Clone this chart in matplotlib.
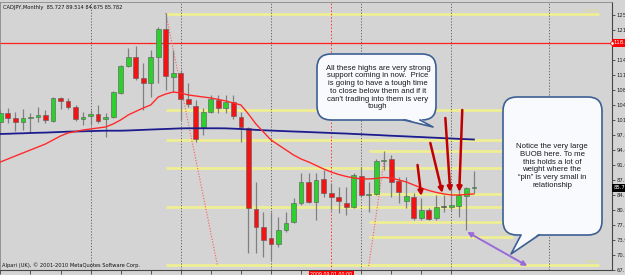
import matplotlib
matplotlib.use("Agg")
import matplotlib.pyplot as plt
from matplotlib.patches import FancyBboxPatch, Polygon
import numpy as np

# CADJPY monthly, Jan 2006 .. Apr 2011
opens = [100.75, 102.80, 101.66, 100.75, 101.66, 101.89, 102.34, 100.98, 106.21, 105.53,
         104.16, 101.43, 102.12, 102.57, 101.43, 101.89, 107.34, 113.48, 115.53, 110.75,
         109.62, 115.53, 121.89, 110.98, 111.89, 105.98, 104.39, 99.62, 103.03, 105.75,
         103.93, 105.30, 101.89, 99.39, 80.98, 76.89, 74.39, 73.03, 76.21, 78.03,
         82.34, 87.12, 82.57, 87.80, 84.62, 83.71, 82.34, 81.43, 88.48, 84.16,
         84.39, 91.89, 92.34, 87.34, 82.80, 83.71, 78.93, 80.75, 78.93, 81.43,
         81.43, 81.66, 83.93, 85.727]
highs = [103.48, 103.93, 103.03, 103.71, 102.80, 104.16, 103.48, 106.43, 106.43, 106.21,
         104.62, 103.03, 103.48, 104.62, 102.80, 107.80, 113.71, 117.57, 118.03, 114.16,
         117.12, 122.34, 125.53, 117.12, 112.57, 109.62, 105.75, 103.93, 106.89, 106.89,
         106.89, 106.89, 103.03, 99.50, 87.12, 80.30, 80.30, 79.16, 80.30, 83.48,
         89.16, 89.16, 89.16, 89.84, 86.89, 85.98, 85.98, 89.16, 90.53, 87.12,
         92.34, 94.16, 93.25, 88.25, 88.25, 84.62, 83.48, 81.21, 84.16, 84.16,
         85.98, 85.30, 85.98, 89.514]
lows = [98.25, 100.53, 98.71, 98.93, 98.25, 100.75, 100.53, 100.75, 103.71, 103.71,
        100.98, 100.07, 100.07, 100.53, 97.34, 101.66, 107.12, 113.25, 110.30, 103.48,
        106.43, 109.62, 108.03, 107.57, 101.21, 104.16, 96.21, 97.80, 102.80, 102.80,
        102.80, 101.43, 96.21, 70.98, 70.98, 70.07, 69.39, 72.34, 75.75, 77.80,
        81.89, 82.34, 78.48, 83.71, 80.75, 80.07, 79.62, 81.21, 83.71, 80.30,
        84.16, 89.84, 83.71, 82.34, 81.21, 78.48, 78.48, 78.48, 78.48, 80.30,
        80.75, 79.16, 76.21, 84.675]
closes = [102.80, 101.66, 100.75, 101.66, 101.89, 102.34, 101.21, 106.21, 105.53, 104.16,
          101.43, 101.89, 102.57, 100.98, 101.89, 107.57, 113.48, 115.53, 110.75, 109.62,
          115.53, 121.89, 111.21, 111.89, 105.98, 104.84, 96.89, 103.03, 105.98, 103.93,
          105.30, 102.12, 99.62, 81.21, 76.89, 73.93, 73.03, 76.21, 77.80, 82.34,
          87.12, 82.57, 87.57, 84.62, 83.71, 82.80, 81.43, 88.71, 84.16, 84.39,
          91.89, 92.12, 87.12, 84.84, 83.93, 78.93, 80.75, 78.71, 81.43, 81.43,
          81.89, 84.16, 85.75, 85.782]

# fast (red) and slow (blue) moving averages
ma_fast = [91.66, 92.34, 93.03, 93.71, 94.39, 95.07, 95.75, 96.66, 97.57, 98.25,
           98.59, 98.93, 99.16, 99.39, 99.62, 100.30, 101.21, 102.34, 103.14, 103.93,
           104.62, 106.43, 107.12, 107.57, 107.34, 106.89, 106.66, 106.43, 106.21, 105.87,
           105.53, 105.07, 104.62, 102.57, 100.30, 98.48, 96.66, 95.52, 94.39, 93.25,
           92.34, 91.66, 90.87, 90.07, 89.39, 88.82, 88.37, 88.03, 87.80, 87.80,
           87.91, 88.14, 88.03, 87.57, 87.12, 86.43, 85.75, 85.18, 84.73, 84.39,
           84.16, 84.16, 84.28, 84.39]
ma_slow = [98.03, 98.07, 98.14, 98.18, 98.25, 98.30, 98.34, 98.41, 98.48, 98.55,
           98.59, 98.64, 98.68, 98.73, 98.77, 98.77, 98.77, 98.82, 98.89, 98.96,
           99.03, 99.10, 99.16, 99.23, 99.30, 99.32, 99.32, 99.32, 99.32, 99.32,
           99.30, 99.23, 99.16, 99.05, 98.96, 98.87, 98.80, 98.73, 98.66, 98.59,
           98.53, 98.46, 98.39, 98.32, 98.25, 98.18, 98.12, 98.03, 97.96, 97.87,
           97.80, 97.71, 97.62, 97.55, 97.48, 97.39, 97.32, 97.23, 97.16, 97.07,
           97.00, 96.91, 96.84, 96.77]

# horizontal support lines: level, first bar, last bar, labelled?
sr_levels = [125.30, 103.48, 96.66, 94.16, 90.30, 84.39, 81.44, 78.03, 74.62, 68.25, 68.25]
sr_start = [22, 22, 22, 49, 22, 49, 22, 49, 49, 22, 49]
sr_end = [79.6, 79.6, 79.6, 68.2, 79.6, 74.0, 79.6, 74.0, 68.2, 79.6, 68.2]
sr_label = [True, True, True, False, True, False, True, False, True, True, True]

hline_red = 118.71
vline_red = 44
separators = [12, 24, 36, 48, 60, 73]

# 118.31 sits under the red line label, so it is left out
price_ticks = [67.10, 70.51, 73.93, 77.34, 80.76, 84.17, 87.58, 91.00, 94.41,
               97.83, 101.24, 104.65, 108.07, 111.48, 114.90, 121.72, 125.14]
# Sep 2009 sits under the red time label
date_ticks = [0, 4, 8, 12, 16, 20, 24, 28, 32, 36, 40, 48, 52, 56, 60]
date_labels = ["Jan 2006", "May 2006", "Sep 2006", "Jan 2007", "May 2007", "Sep 2007",
               "Jan 2008", "May 2008", "Sep 2008", "Jan 2009", "May 2009",
               "Jan 2010", "May 2010", "Sep 2010", "Jan 2011"]

bg = '#d4d4d4'
up_col = '#2ccf2c'
dn_col = '#f01414'

fig = plt.figure(figsize=(6.25, 2.75), dpi=100)
fig.patch.set_facecolor(bg)
ax = fig.add_axes([0, 5 / 275, 612 / 625, 268 / 275])
ax.set_facecolor(bg)

idx = np.arange(len(opens))
o = np.array(opens)
c = np.array(closes)

# support / resistance lines
for lev, s, e, lab in zip(sr_levels, sr_start, sr_end, sr_label):
    ax.hlines(lev, s, e, color='#eeee92', lw=2, zorder=1)
    if lab:
        ax.text(e, lev + 0.3, '%.2f' % lev, color='#e2e270', fontsize=3, ha='right',
                va='bottom', zorder=1)

# period separators + red vertical line
for s in separators:
    ax.axvline(s, color='#555555', lw=0.6, ls=(0, (1.5, 2)), zorder=1)
ax.axvline(vline_red, color='#ff3030', lw=0.7, ls=(0, (1.5, 2)), zorder=1)
ax.axhline(hline_red, color='#ff2020', lw=0.9, zorder=2)

# candles
ax.vlines(idx, lows, highs, color='#808080', lw=0.9, zorder=3)
cols = [up_col if cc >= oo else dn_col for oo, cc in zip(o, c)]
cols = ['#404040' if cc == oo else col for oo, cc, col in zip(o, c, cols)]
ax.bar(idx, np.maximum(np.abs(c - o), 0.15), bottom=np.minimum(o, c), width=0.64,
       color=cols, edgecolor='#5a5a5a', linewidth=0.4, zorder=3.5)

# moving averages
ax.plot(idx, ma_slow, color='#1c1c8e', lw=1.3, zorder=4)
ax.plot(idx, ma_fast, color='#ff2a2a', lw=1.0, zorder=4)

# dotted trend lines
ax.plot([22, 28.9], [125.53, 68.0], color='#ff5a5a', lw=0.8, ls=(0, (1, 1.5)), zorder=2)
ax.plot([49, 51.1], [68.0, 92.6], color='#ff5a5a', lw=0.8, ls=(0, (1, 1.5)), zorder=2)

# red arrows at the lows
arrows = [((55.5, 90.98), (56.0, 83.93)),
          ((57.2, 95.98), (58.8, 84.62)),
          ((59.2, 101.66), (59.85, 84.84)),
          ((61.45, 103.48), (61.05, 84.84))]
for start, end in arrows:
    ax.annotate('', xy=end, xytext=start,
                arrowprops=dict(arrowstyle='-|>', color='#c00000', lw=1.8,
                                mutation_scale=7, shrinkA=0, shrinkB=0), zorder=6)
ax.annotate('', xy=(70.1, 68.03), xytext=(62.1, 75.75),
            arrowprops=dict(arrowstyle='<|-|>', color='#9b6ad8', lw=1.4,
                            mutation_scale=7, shrinkA=0, shrinkB=0), zorder=6)

ax.set_xlim(-0.05, 81.37)
ax.set_ylim(67.12, 128.03)

# axes styling, MT4 look
for sp in ['top', 'left']:
    ax.spines[sp].set_color('#888888')
    ax.spines[sp].set_linewidth(0.6)
for sp in ['right', 'bottom']:
    ax.spines[sp].set_color('#444444')
    ax.spines[sp].set_linewidth(0.8)
ax.yaxis.tick_right()
ax.set_yticks(price_ticks)
ax.set_yticklabels(['%.2f' % t for t in price_ticks])
ax.tick_params(axis='y', length=2, width=0.5, pad=1.5, labelsize=3.8, colors='#222222')
ax.set_xticks(date_ticks)
ax.set_xticklabels(date_labels)
for t in ax.get_xticklabels():
    t.set_ha('left')
ax.tick_params(axis='x', length=3, width=0.5, pad=0.5, labelsize=3.6, colors='#222222')

# price labels on the right axis
ax.text(1.002, hline_red, '%.2f' % hline_red, transform=ax.get_yaxis_transform(),
        color='white', fontsize=3.8, va='center', ha='left', zorder=10,
        bbox=dict(boxstyle='square,pad=0.25', fc='#ff0000', ec='none'), clip_on=False)
ax.plot([1.0], [hline_red], 'o', ms=2.6, mfc='white', mec='#ff0000', mew=0.6,
        transform=ax.get_yaxis_transform(), clip_on=False, zorder=11)
ax.text(1.002, closes[-1], '%.2f' % closes[-1], transform=ax.get_yaxis_transform(),
        color='white', fontsize=3.8, va='center', ha='left', zorder=10,
        bbox=dict(boxstyle='square,pad=0.25', fc='#000000', ec='none'), clip_on=False)
ax.text(vline_red, -0.008, '2009.09.01 00:00', transform=ax.get_xaxis_transform(),
        color='white', fontsize=3.4, va='top', ha='center', zorder=10,
        bbox=dict(boxstyle='square,pad=0.3', fc='#ff0000', ec='none'), clip_on=False)

ax.text(0.005, 0.988, 'CADJPY,Monthly  %.3f %.3f %.3f %.3f' % (opens[-1], highs[-1], lows[-1], closes[-1]),
        transform=ax.transAxes, fontsize=3.7, va='top', ha='left', color='#111111')
ax.text(0.004, 0.008, 'Alpari (UK), \u00a9 2001-2010 MetaQuotes Software Corp.',
        transform=ax.transAxes, fontsize=3.7, va='bottom', ha='left', color='#111111')

# callouts drawn on a pixel overlay
ov = fig.add_axes([0, 0, 1, 1], facecolor='none')
ov.set_xlim(0, 625)
ov.set_ylim(275, 0)
ov.axis('off')

edge = '#3d5f94'
fill = '#f8fafd'


def callout(x0, y0, x1, y1, tail, text, tx, ty, size):
    ov.add_patch(FancyBboxPatch((x0, y0), x1 - x0, y1 - y0,
                                boxstyle='round,pad=0,rounding_size=14',
                                fc=fill, ec=edge, lw=1.2, zorder=1))
    (bx0, by0), tip, (bx1, by1) = tail
    ov.add_patch(Polygon([(bx0, by0 - 1.5), tip, (bx1, by1 - 1.5)], closed=True,
                         fc=fill, ec='none', zorder=2))
    ov.plot([bx0, tip[0], bx1], [by0, tip[1], by1], color=edge, lw=1.2, zorder=3)
    ov.text(tx, ty, text, ha='center', va='center', fontsize=size, color='#1a1a1a',
            family='Liberation Sans', linespacing=1.15, zorder=4)


callout(317, 54, 436, 120, [(404, 120), (433, 127), (420, 120)],
        "All these highs are very strong\nsupport coming in now.  Price\n"
        "is going to have a tough time\nto close below them and if it\n"
        "can't trading into them is very\ntough", 378, 87.5, 5.6)
callout(503, 97, 602, 235, [(521, 235), (511, 254), (539, 235)],
        "Notice the very large\nBUOB here. To me\nthis holds a lot of\n"
        "weight where the\n\u201cpin\u201d is very small in\nrelationship", 552, 166, 5.6)

fig.savefig('out.png', dpi=100, facecolor=bg)
